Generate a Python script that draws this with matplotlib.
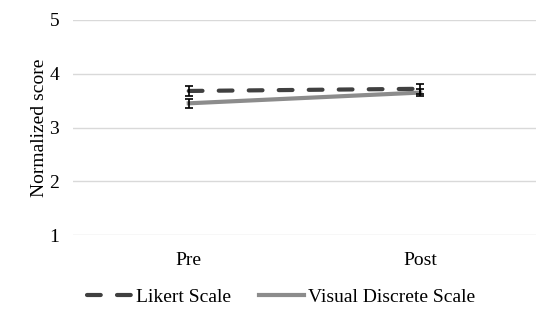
import matplotlib.pyplot as plt

plt.rcParams['font.family'] = ['Liberation Serif', 'DejaVu Serif']

phases = ['Pre', 'Post']
likert = [3.68, 3.72]
likert_err = [0.09, 0.09]
visual = [3.45, 3.65]
visual_err = [0.08, 0.07]

fig = plt.figure(figsize=(5.58, 3.22), dpi=100)
ax = fig.add_axes([73/558, 1 - 235/322, (536 - 73)/558, (235 - 20)/322])

x = [0, 1]
ax.plot(x, visual, color='#8c8c8c', linewidth=3.0,
        label='Visual Discrete Scale', zorder=3)
ax.plot(x, likert, color='#404040', linewidth=3.0,
        linestyle=(0, (3.3, 3.9)), dash_capstyle='round',
        label='Likert Scale', zorder=4)
for vals, err in [(visual, visual_err), (likert, likert_err)]:
    ax.errorbar(x, vals, yerr=err, fmt='none', ecolor='black',
                elinewidth=1.2, capsize=3, capthick=1.2, zorder=5)

ax.set_xlim(-0.5, 1.5)
ax.set_ylim(1, 5)
ax.set_yticks([1, 2, 3, 4, 5])
ax.set_xticks(x)
ax.set_xticklabels(phases)
ax.grid(axis='y', color='#d9d9d9', linewidth=1)
ax.set_axisbelow(True)
for s in ax.spines.values():
    s.set_visible(False)
ax.tick_params(length=0, labelsize=14, pad=10)
ax.tick_params(axis='x', pad=12)
ax.set_ylabel('Normalized score', fontsize=14, labelpad=1)

handles, labels = ax.get_legend_handles_labels()
ax.legend(handles[::-1], labels[::-1], loc='upper center',
          bbox_to_anchor=(0.449, -0.165), ncol=2, frameon=False,
          fontsize=14, handlelength=2.3, columnspacing=1.45, handletextpad=0.2)

fig.savefig('out.png', dpi=100)
